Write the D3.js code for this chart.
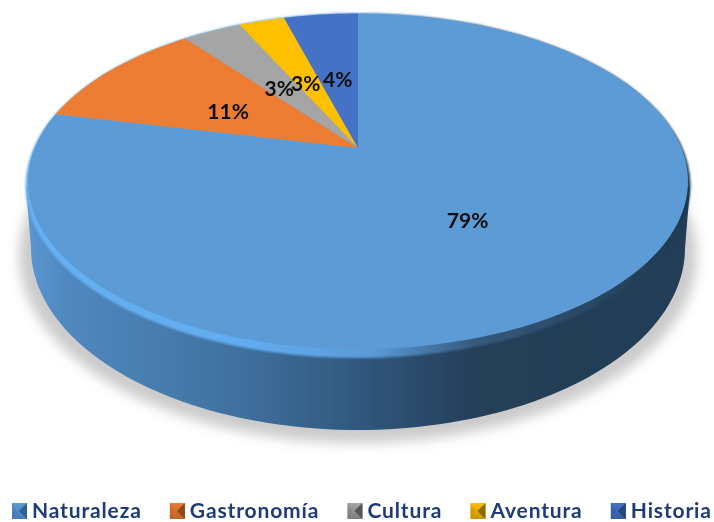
<!DOCTYPE html>
<html><head><meta charset="utf-8">
<script src="https://cdn.jsdelivr.net/npm/d3@7"></script>
<style>html,body{margin:0;padding:0;background:#fff}svg{display:block}</style></head>
<body><script>
const categories = ["Naturaleza","Gastronomía","Cultura","Aventura","Historia"];
const shares = [78.5,10.9,3.49,2.71,4.4];
const colors = ["#5b9bd5","#ed7d31","#a5a5a5","#ffc000","#4472c4"];
const darks = ["#2f5f8f","#8f4a1a","#555555","#8a6800","#27457a"];

const W=714,H=522;
const svg=d3.select("body").append("svg").attr("width",W).attr("height",H);
const defs=svg.append("defs");
const blur=(id,s)=>defs.append("filter").attr("id",id).attr("x","-10%").attr("y","-10%").attr("width","120%").attr("height","120%")
  .append("feGaussianBlur").attr("stdDeviation",s);
blur("soft",0.55);blur("edge",1.3);blur("face",0.7);blur("shadow",6);
const grad=(id,stops)=>{const g=defs.append("linearGradient").attr("id",id).attr("gradientUnits","userSpaceOnUse")
  .attr("x1",25).attr("x2",690).attr("y1",0).attr("y2",0);
  stops.forEach(([o,c])=>g.append("stop").attr("offset",o).attr("stop-color",c));};
grad("wall",[[0,"#5a98d2"],[0.06,"#5089c0"],[0.32,"#3f719f"],[0.5,"#31587e"],[0.68,"#253f59"],[1,"#233d55"]]);
grad("bevel",[[0,"#66b1f5"],[0.35,"#62abee"],[0.52,"#5a9bd8"],[0.68,"#34597c"],[1,"#1f384f"]]);

const root=svg.append("g").attr("filter","url(#soft)");
const line=d3.line();
const ell=(cx,cy,rx,ry,a0,a1)=>d3.range(0,101).map(i=>{const t=a0+(a1-a0)*i/100;return [cx+rx*Math.sin(t),cy-ry*Math.cos(t)];});

// shadow
root.append("path").attr("d",line(ell(358,256,339,187,0,2*Math.PI))+"Z").attr("fill","#b0b0b0").attr("opacity",.65).attr("filter","url(#shadow)");
// wall: upper span of the outer rim and lower ellipse
const wallPts=[[26,187],...ell(358,248,327,182,-Math.PI/2,-3*Math.PI/2),[690,187]];
root.append("path").attr("d",line(wallPts)+"Z").attr("fill","url(#wall)");
// bevel rim
root.append("path").attr("d",line(ell(358,185.5,332.5,172.5,0,2*Math.PI))+"Z").attr("fill","url(#bevel)").attr("filter","url(#edge)");

// projective mapping of the unit disk to the top face
const O={x:358,y:148},A=161.2,B=323.4,k=-0.1988;
const project=(theta,r=1)=>{const u=r*Math.sin(theta),v=-r*Math.cos(theta),w=1+k*v;return [O.x+B*u/w,O.y+A*v/w];};
const pie=d3.pie().sort(null).value(d=>d);
const arcs=pie(shares);
const faces=root.append("g").attr("filter","url(#face)");
faces.selectAll("path").data(arcs).join("path")
  .attr("d",d=>{const n=Math.max(4,Math.ceil((d.endAngle-d.startAngle)*40));
    const pts=[[O.x,O.y],...d3.range(n+1).map(i=>project(d.startAngle+(d.endAngle-d.startAngle)*i/n))];
    return line(pts)+"Z";})
  .attr("fill",(d,i)=>colors[i]);

// labels sit at half radius on each slice's middle ray
const labelR=0.5,labelDrop=3;
root.append("g").selectAll("text").data(arcs).join("text")
  .attr("x",d=>project((d.startAngle+d.endAngle)/2,labelR)[0])
  .attr("y",d=>project((d.startAngle+d.endAngle)/2,labelR)[1]+labelDrop)
  .attr("text-anchor","middle").attr("dominant-baseline","central")
  .attr("font-family","Lato").attr("font-weight",700).attr("font-size",21).attr("fill","#111")
  .text(d=>Math.round(d.value)+"%");

// legend
const legend=root.append("g");
let x=12;const gap=28.2;
categories.forEach((c,i)=>{
  const g=legend.append("g").attr("transform",`translate(${x},503)`);
  const id="sw"+i;
  const sg=defs.append("linearGradient").attr("id",id).attr("x1",0).attr("x2",0).attr("y1",0).attr("y2",1);
  sg.append("stop").attr("offset",0).attr("stop-color",colors[i]);
  sg.append("stop").attr("offset",1).attr("stop-color",d3.interpolateRgb(colors[i],darks[i])(0.5));
  g.append("rect").attr("width",15).attr("height",16).attr("fill",`url(#${id})`);
  g.append("path").attr("d","M15,0L7,8L15,16Z").attr("fill",darks[i]);
  g.append("path").attr("d","M0,0L5,8L0,16Z").attr("fill",darks[i]).attr("opacity",.18);
  const t=g.append("text").attr("x",20).attr("y",14.5).attr("font-family","Lato").attr("font-weight",700)
    .attr("font-size",21).attr("letter-spacing",.85).attr("fill","#1f3b78").text(c);
  x+=20+t.node().getComputedTextLength()+gap;
});
</script></body></html>
